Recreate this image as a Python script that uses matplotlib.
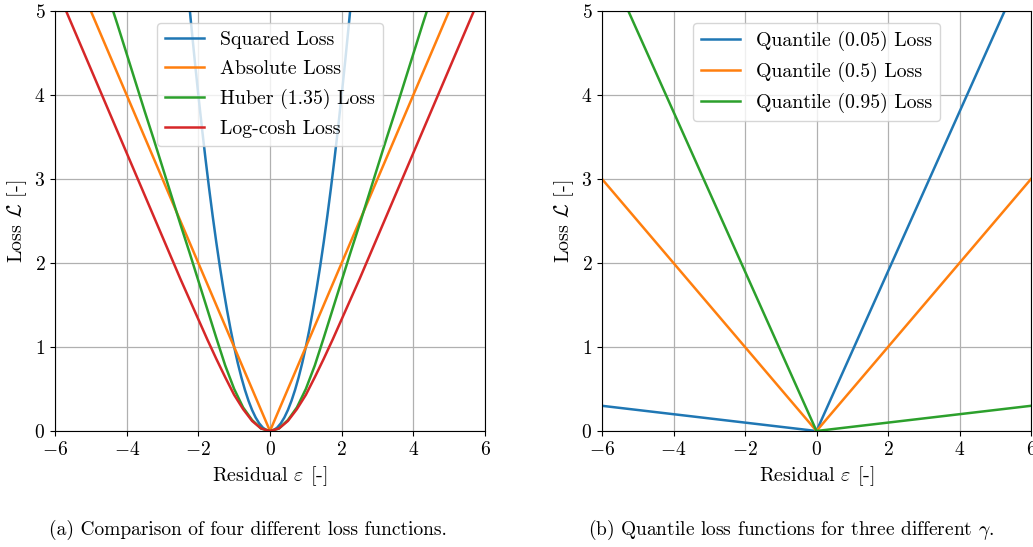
import numpy as np
import matplotlib
matplotlib.use("Agg")
import matplotlib.pyplot as plt

plt.rcParams["font.family"] = "cmr10"
plt.rcParams["mathtext.fontset"] = "cm"
plt.rcParams["axes.formatter.use_mathtext"] = True
plt.rcParams["font.size"] = 14

# residual grids (left panel)
eps_sq = np.arange(-2.5, 2.51, 0.1)
squared_pos = [0, 0.01, 0.04, 0.09, 0.16, 0.25, 0.36, 0.49, 0.64, 0.81, 1.00, 1.21, 1.44,
               1.69, 1.96, 2.25, 2.56, 2.89, 3.24, 3.61, 4.00, 4.41, 4.84, 5.29, 5.76, 6.25]
eps = np.arange(-6, 6.01, 0.25)
huber_pos = [0, 0.03, 0.13, 0.28, 0.50, 0.78, 1.11, 1.45, 1.79, 2.13, 2.46, 2.80, 3.14,
             3.48, 3.81, 4.15, 4.49, 4.83, 5.16, 5.50, 5.84, 6.18, 6.51, 6.85, 7.19]
logcosh_pos = [0, 0.03, 0.12, 0.26, 0.43, 0.64, 0.86, 1.09, 1.33, 1.57, 1.81, 2.06, 2.31,
               2.56, 2.81, 3.06, 3.31, 3.56, 3.81, 4.06, 4.31, 4.56, 4.81, 5.06, 5.31]
squared = squared_pos[:0:-1] + squared_pos
huber = huber_pos[:0:-1] + huber_pos
logcosh = logcosh_pos[:0:-1] + logcosh_pos
abs_x = [-6, 0, 6]
abs_y = [6, 0, 6]

# quantile losses (right panel)
q_x = [-6, 0, 6]
q005 = [0.3, 0, 5.7]
q050 = [3.0, 0, 3.0]
q095 = [5.7, 0, 0.3]

fig = plt.figure(figsize=(10.33, 5.47), dpi=100)
W, H = 1033, 547
ax1 = fig.add_axes([55 / W, 1 - 431 / H, 430 / W, 420 / H])
ax2 = fig.add_axes([602 / W, 1 - 431 / H, 429 / W, 420 / H])

lw = 1.8
ax1.plot(eps_sq, squared, lw=lw, label="Squared Loss")
ax1.plot(abs_x, abs_y, lw=lw, label="Absolute Loss")
ax1.plot(eps, huber, lw=lw, label="Huber (1.35) Loss")
ax1.plot(eps, logcosh, lw=lw, label="Log-cosh Loss")

ax2.plot(q_x, q005, lw=lw, label="Quantile (0.05) Loss")
ax2.plot(q_x, q050, lw=lw, label="Quantile (0.5) Loss")
ax2.plot(q_x, q095, lw=lw, label="Quantile (0.95) Loss")

for ax in (ax1, ax2):
    ax.set_xlim(-6, 6)
    ax.set_ylim(0, 5)
    ax.set_xticks([-6, -4, -2, 0, 2, 4, 6])
    ax.set_yticks([0, 1, 2, 3, 4, 5])
    ax.tick_params(labelsize=14)
    ax.grid(True, color="#b0b0b0", lw=0.9)
    ax.set_xlabel(r"Residual $\varepsilon$ [-]", fontsize=14.5)
    ax.set_ylabel(r"Loss $\mathcal{L}$ [-]", fontsize=14.5)
    ax.legend(loc="upper center", fontsize=14.3, borderpad=0.4, labelspacing=0.55,
              bbox_to_anchor=(0.5, 0.995))

fig.text(248 / W, 1 - 535 / H, "(a) Comparison of four different loss functions.",
         ha="center", va="baseline", fontsize=14)
fig.text(791 / W, 1 - 535 / H, r"(b) Quantile loss functions for three different $\gamma$.",
         ha="center", va="baseline", fontsize=14)

fig.savefig("out.png", dpi=100)
